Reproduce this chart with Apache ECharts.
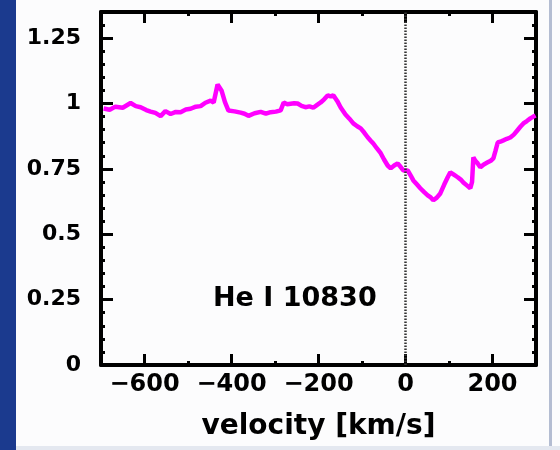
<!DOCTYPE html>
<html>
<head>
<meta charset="utf-8">
<script src="https://cdn.jsdelivr.net/npm/echarts@6/dist/echarts.min.js"></script>
<style>
  html, body { margin: 0; padding: 0; background: #fcfcfd; }
  #main { width: 560px; height: 450px; }
</style>
</head>
<body>
<div id="main"></div>
<script>
// velocity (km/s) and normalised flux
var velocity = [-694, -680, -667, -650, -632, -620, -609, -596, -586, -575, -563, -552, -540, -528, -517, -505, -494, -482, -471, -460,
  -448, -441, -432, -423, -415, -407, -393, -379, -370, -361, -347, -333, -321, -310, -298, -287, -280, -272, -264, -256, -248,
  -239, -230, -221, -212, -203, -195, -187, -179, -172, -166, -157, -149, -138, -129, -120, -111, -103, -95, -87, -80, -74,
  -66, -57, -49, -41, -34, -26, -18, -11, -5, 5, 12, 18, 26, 34, 43, 51, 58, 64, 72, 80, 89, 97, 103, 112, 120, 127, 133,
  141, 149, 153, 156, 161, 166, 172, 180, 189, 196, 202, 207, 212, 218, 225, 233, 241, 249, 257, 264, 271, 279, 287, 293, 299];
var flux = [0.981, 0.976, 0.988, 0.984, 1.002, 0.990, 0.986, 0.975, 0.969, 0.964, 0.952, 0.971, 0.960, 0.968, 0.967, 0.977, 0.980, 0.988, 0.990, 1.003,
  1.011, 1.004, 1.073, 1.050, 1.005, 0.973, 0.970, 0.965, 0.961, 0.953, 0.963, 0.968, 0.961, 0.967, 0.969, 0.974, 1.004, 0.997, 0.999, 1.001, 1.000,
  0.991, 0.986, 0.989, 0.984, 0.995, 1.004, 1.016, 1.031, 1.027, 1.032, 1.010, 0.985, 0.958, 0.942, 0.924, 0.913, 0.905, 0.889, 0.871, 0.858, 0.847,
  0.829, 0.810, 0.785, 0.763, 0.752, 0.763, 0.771, 0.757, 0.744, 0.744, 0.724, 0.706, 0.691, 0.676, 0.661, 0.649, 0.641, 0.630, 0.640, 0.656, 0.690, 0.718, 0.737, 0.727, 0.718, 0.709, 0.698,
  0.687, 0.676, 0.700, 0.794, 0.780, 0.771, 0.756, 0.767, 0.775, 0.781, 0.790, 0.820, 0.851, 0.854, 0.859, 0.865, 0.870, 0.881, 0.897, 0.911, 0.924, 0.933, 0.943, 0.949, 0.954];
var xTicks = [-600, -400, -200, 0, 200];
var yTicks = [0, 0.25, 0.5, 0.75, 1, 1.25];

var chart = echarts.init(document.getElementById('main'));

var pts = velocity.map(function (v, i) { return [v, flux[i]]; });
var ff = 'DejaVu Sans';

function minus(v) {
  return String(v).replace('-', '\u2212');
}

function xAx(pos, major) {
  var ax = {
    type: 'value', position: pos, min: -700, max: 300,
    axisLine: { show: major, onZero: false, lineStyle: { color: '#000', width: 4 } },
    axisTick: { inside: true, length: major ? 11 : 4, lineStyle: { color: '#000', width: 3 } },
    axisLabel: { show: false },
    splitLine: { show: false }
  };
  if (!major) ax.interval = 100;
  if (major && pos === 'bottom') {
    ax.axisLabel = {
      show: true, margin: 8, fontSize: 24, fontWeight: 'bold', fontFamily: ff, color: '#000',
      showMinLabel: false, showMaxLabel: false,
      formatter: function (v) { return xTicks.indexOf(v) >= 0 ? minus(v) : ''; }
    };
    ax.name = 'velocity [km/s]';
    ax.nameLocation = 'middle';
    ax.nameGap = 48;
    ax.nameTextStyle = { fontSize: 28, fontWeight: 'bold', fontFamily: ff, color: '#000' };
  }
  return ax;
}

function yAx(pos, major) {
  var ax = {
    type: 'value', position: pos, min: 0, max: 1.35,
    interval: major ? 0.25 : 0.05,
    axisLine: { show: major, onZero: false, lineStyle: { color: '#000', width: 4 } },
    axisTick: { inside: true, length: major ? 12 : 4, lineStyle: { color: '#000', width: 3 } },
    axisLabel: { show: false },
    splitLine: { show: false }
  };
  if (major && pos === 'left') {
    ax.axisLabel = {
      show: true, margin: 20, fontSize: 22, fontWeight: 'bold', fontFamily: ff, color: '#000',
      showMaxLabel: false,
      formatter: function (v) { return yTicks.indexOf(v) >= 0 ? String(v) : ''; }
    };
  }
  return ax;
}

chart.setOption({
  backgroundColor: '#fcfcfd',
  animation: false,
  grid: { left: 101, right: 24, top: 12, bottom: 85 },
  graphic: [
    { type: 'rect', shape: { x: 0, y: 0, width: 16, height: 450 }, style: { fill: '#1b3a8e' } },
    { type: 'rect', shape: { x: 549, y: 0, width: 3, height: 450 }, style: { fill: '#b4bdd2' } },
    { type: 'rect', shape: { x: 16, y: 446, width: 544, height: 4 }, style: { fill: '#e4e8f0' } },
    {
      type: 'text', left: 213, top: 285, z: 10,
      style: { text: 'He I 10830', font: 'bold 27px "DejaVu Sans"', fill: '#000' }
    }
  ],
  xAxis: [xAx('bottom', true), xAx('bottom', false), xAx('top', true), xAx('top', false)],
  yAxis: [yAx('left', true), yAx('left', false), yAx('right', true), yAx('right', false)],
  series: [{
    type: 'line',
    xAxisIndex: 0,
    yAxisIndex: 0,
    data: pts,
    showSymbol: false,
    lineStyle: { color: '#ff00ff', width: 4.5 },
    markLine: {
      silent: true,
      symbol: ['none', 'none'],
      label: { show: false },
      lineStyle: { color: '#333', width: 2.5, type: [1.5, 1.5] },
      data: [{ xAxis: 0 }]
    }
  }]
});
</script>
</body>
</html>
